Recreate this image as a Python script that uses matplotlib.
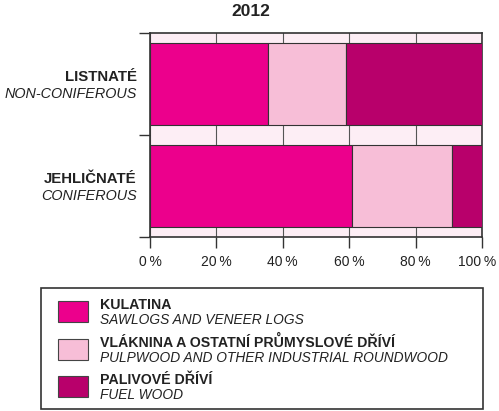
import numpy as np
import matplotlib
matplotlib.use("Agg")
import matplotlib.pyplot as plt
import matplotlib.transforms as mtransforms
from matplotlib.patches import Rectangle

plt.rcParams['font.family'] = ['Liberation Sans', 'DejaVu Sans']

# data (percent shares, 2012)
groups_cz = ['LISTNATÉ', 'JEHLIČNATÉ']
groups_en = ['NON-CONIFEROUS', 'CONIFEROUS']
kulatina = [35.4, 60.7]
vlaknina = [23.5, 30.2]
palivove = [41.1, 9.1]

series_cz = ['KULATINA', 'VLÁKNINA A OSTATNÍ PRŮMYSLOVÉ DŘÍVÍ', 'PALIVOVÉ DŘÍVÍ']
series_en = ['SAWLOGS AND VENEER LOGS', 'PULPWOOD AND OTHER INDUSTRIAL ROUNDWOOD', 'FUEL WOOD']
colors = ['#ec008c', '#f7bed7', '#b8006b']
x_ticks = [0, 20, 40, 60, 80, 100]

W, H = 499, 411
fig = plt.figure(figsize=(W / 100, H / 100), dpi=100)
ax = fig.add_axes([150 / W, 1 - 237 / H, 332 / W, 204 / H])

ax.set_facecolor('#fdeef5')
ypos = np.array([0.5, 1.5])
left = np.zeros(2)
for vals, col in zip([kulatina, vlaknina, palivove], colors):
    ax.barh(ypos, vals, left=left, height=0.8, color=col,
            edgecolor='#333333', linewidth=0.8, zorder=3)
    left += np.array(vals)

ax.set_xlim(0, 100)
ax.set_ylim(2, 0)
ax.set_xticks(x_ticks)
ax.set_xticklabels([f'{v}\u2009%' for v in x_ticks], fontsize=10, color='#222222')
ax.set_yticks([0, 1, 2])
ax.set_yticklabels([])
ax.tick_params(axis='both', direction='out', length=8, width=1, color='#333333')
ax.tick_params(axis='x', pad=5)
ax.grid(axis='x', color='#555555', linewidth=0.8, zorder=1)
for s in ax.spines.values():
    s.set_color('#333333')
    s.set_linewidth(1.2)

# keep the "100 %" label inside the image, as in the original
last = ax.get_xticklabels()[-1]
last.set_transform(last.get_transform() +
                   mtransforms.ScaledTranslation(-5 / 100, 0, fig.dpi_scale_trans))

for y, cz, en in zip(ypos, groups_cz, groups_en):
    ax.text(-4, y - 0.065, cz, transform=ax.transData, ha='right', va='center',
            fontsize=10.8, fontweight='bold', color='#222222', clip_on=False)
    ax.text(-4, y + 0.10, en, transform=ax.transData, ha='right', va='center',
            fontsize=10.4, fontstyle='italic', color='#222222', clip_on=False)

fig.text(251 / W, 1 - 12 / H, '2012', ha='center', va='center',
         fontsize=12.5, fontweight='bold', color='#222222')

# legend box
fig.patches.append(Rectangle((41 / W, 1 - 409 / H), 442 / W, 121 / H,
                             transform=fig.transFigure, fill=False,
                             edgecolor='#333333', linewidth=1.2))
for i, (cz, en, col) in enumerate(zip(series_cz, series_en, colors)):
    top = 301 + i * 37.7
    fig.patches.append(Rectangle((58 / W, 1 - (top + 21) / H), 30 / W, 21 / H,
                                 transform=fig.transFigure, facecolor=col,
                                 edgecolor='#444444', linewidth=0.8))
    fig.text(100 / W, 1 - (top + 4) / H, cz, ha='left', va='center',
             fontsize=10.2, fontweight='bold', color='#222222')
    fig.text(100 / W, 1 - (top + 19) / H, en, ha='left', va='center',
             fontsize=9.9, fontstyle='italic', color='#222222')

fig.savefig('out.png', dpi=100)
